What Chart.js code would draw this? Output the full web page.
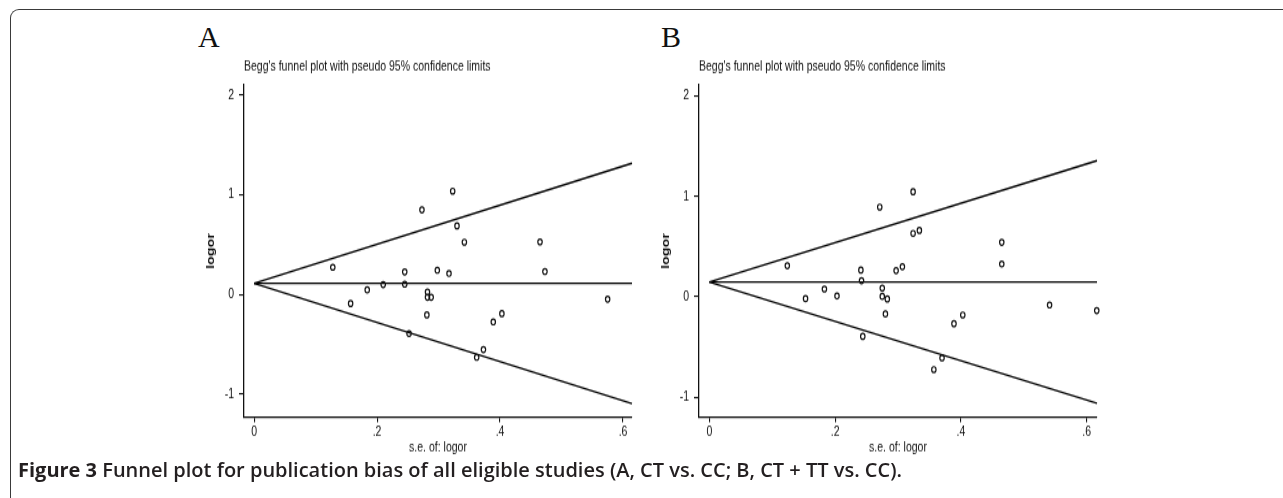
<!DOCTYPE html>
<html lang="en">
<head>
<meta charset="UTF-8">
<title>Begg's funnel plots</title>
<script src="https://cdn.jsdelivr.net/npm/chart.js"></script>
<style>
    body {
        margin: 0;
        background: #fff;
        width: 1283px;
        height: 498px;
        overflow: hidden;
        position: relative;
        font-family: 'Liberation Sans', Arial, sans-serif;
    }
    #frame {
        position: absolute;
        left: 10px;
        top: 9px;
        width: 1300px;
        height: 520px;
        border-top: 1.5px solid #3a3a3a;
        border-left: 1.5px solid #3a3a3a;
        border-top-left-radius: 9px;
    }
    /* stata export is stretched vertically, so draw flat and scale */
    .panel {
        position: absolute;
        top: 55px;
        height: 312px;
        transform: scaleY(1.3);
        transform-origin: 0 0;
    }
    .letter {
        position: absolute;
        top: 22px;
        font: 30px 'Liberation Serif', 'Times New Roman', serif;
        line-height: 30px;
        color: #111;
    }
    #caption {
        position: absolute;
        left: 18px;
        top: 458px;
        font: bold 20px 'Open Sans', sans-serif;
        line-height: 24px;
        color: #231f20;
        white-space: nowrap;
    }
</style>
</head>
<body>
    <div id="frame"></div>
    <div class="letter" style="left:198px">A</div>
    <div class="letter" style="left:661px">B</div>
    <div class="panel" style="left:185px; width:460px"><canvas id="chartA"></canvas></div>
    <div class="panel" style="left:640px; width:470px"><canvas id="chartB"></canvas></div>
    <div id="caption">Figure 3 <span style="font-weight:600">Funnel plot for publication bias of all eligible studies (A, CT vs. CC; B, CT + TT vs. CC).</span></div>

<script>
    // A: CT vs. CC
    const seA    = [0.128, 0.157, 0.184, 0.210, 0.245, 0.245, 0.252, 0.273, 0.282, 0.282, 0.288, 0.281,
                    0.298, 0.317, 0.323, 0.330, 0.342, 0.362, 0.373, 0.389, 0.403, 0.465, 0.473, 0.575];
    const logorA = [0.274, -0.090, 0.047, 0.100, 0.227, 0.104, -0.391, 0.849, 0.025, -0.027, -0.027, -0.204,
                    0.244, 0.211, 1.037, 0.689, 0.525, -0.629, -0.552, -0.274, -0.191, 0.528, 0.231, -0.047];
    // B: CT + TT vs. CC
    const seB    = [0.124, 0.153, 0.183, 0.203, 0.241, 0.242, 0.244, 0.271, 0.275, 0.275, 0.283, 0.280, 0.297,
                    0.307, 0.324, 0.324, 0.334, 0.357, 0.370, 0.389, 0.403, 0.465, 0.465, 0.541, 0.616];
    const logorB = [0.308, -0.020, 0.076, 0.007, 0.265, 0.159, -0.395, 0.892, 0.086, 0.003, -0.023, -0.172, 0.259,
                    0.298, 1.045, 0.630, 0.660, -0.726, -0.610, -0.269, -0.182, 0.541, 0.325, -0.083, -0.139];

    const pooledA = 0.112;
    const pooledB = 0.146;

    const xTicks = [0, 0.2, 0.4, 0.6];
    const xTickLabels = ['0', '.2', '.4', '.6'];
    const yTicks = [-1, 0, 1, 2];
    const yTickLabels = ['-1', '0', '1', '2'];

    const plotTitle = "Begg's funnel plot with pseudo 95% confidence limits";
    const xTitle = 's.e. of: logor';
    const yTitle = 'logor';

    const sans = "'Liberation Sans', Arial, sans-serif";
    const ink = '#111';

    function funnelLine(pooled, end, sign) {
        return [{ x: 0, y: pooled }, { x: end, y: pooled + sign * 1.96 * end }];
    }

    function makeChart(id, se, logor, pooled, xMax, yMin, yMax) {
        const lineStyle = { showLine: true, pointRadius: 0, borderColor: '#000', borderWidth: 1.4, clip: false };
        new Chart(document.getElementById(id), {
            type: 'scatter',
            data: {
                datasets: [
                    {
                        data: se.map((x, i) => ({ x: x, y: logor[i] })),
                        pointStyle: 'circle',
                        pointRadius: 2.2,
                        pointBorderWidth: 1.2,
                        pointBorderColor: ink,
                        pointBackgroundColor: 'rgba(0,0,0,0)',
                        clip: false
                    },
                    Object.assign({ data: [{ x: 0, y: pooled }, { x: xMax, y: pooled }] }, lineStyle),
                    Object.assign({ data: funnelLine(pooled, xMax, 1) }, lineStyle),
                    Object.assign({ data: funnelLine(pooled, xMax, -1) }, lineStyle)
                ]
            },
            options: {
                responsive: true,
                maintainAspectRatio: false,
                animation: false,
                events: [],
                layout: { padding: { top: 3, left: 10, right: 13, bottom: 3.5 } },
                plugins: {
                    legend: { display: false },
                    tooltip: { enabled: false },
                    title: {
                        display: true,
                        text: plotTitle,
                        align: 'start',
                        fullSize: false,
                        color: ink,
                        font: { family: sans, size: 10.5, weight: 'normal' },
                        padding: { top: 0, bottom: 7.5 }
                    }
                },
                scales: {
                    x: {
                        type: 'linear',
                        min: -0.0164,
                        max: xMax,
                        afterBuildTicks: s => { s.ticks = xTicks.map(v => ({ value: v })); },
                        afterFit: s => { s.height = 30; },
                        grid: { drawOnChartArea: false, drawTicks: true, tickLength: 4, color: ink, lineWidth: 1.1 },
                        border: { display: true, color: ink, width: 1.3 },
                        ticks: {
                            padding: 1,
                            color: ink,
                            font: { family: sans, size: 10.5 },
                            callback: (v, i) => xTickLabels[i]
                        },
                        title: {
                            display: true,
                            text: xTitle,
                            color: ink,
                            font: { family: sans, size: 10.5 },
                            padding: { top: 0, bottom: 0 }
                        }
                    },
                    y: {
                        type: 'linear',
                        min: yMin,
                        max: yMax,
                        afterBuildTicks: s => { s.ticks = yTicks.map(v => ({ value: v })); },
                        afterFit: s => { s.width = 49; },
                        grid: { drawOnChartArea: false, drawTicks: true, tickLength: 5, color: ink, lineWidth: 1.1 },
                        border: { display: true, color: ink, width: 1.3 },
                        ticks: {
                            padding: 5,
                            color: ink,
                            font: { family: sans, size: 10.5 },
                            callback: (v, i) => yTickLabels[i]
                        },
                        title: {
                            display: true,
                            text: yTitle,
                            color: ink,
                            font: { family: sans, size: 11, weight: 'bold' },
                            padding: { top: 9.4, bottom: 0 }
                        }
                    }
                }
            }
        });
    }

    makeChart('chartA', seA, logorA, pooledA, 0.6146, -1.228, 2.100);
    makeChart('chartB', seB, logorB, pooledB, 0.6164, -1.199, 2.107);
</script>
</body>
</html>
